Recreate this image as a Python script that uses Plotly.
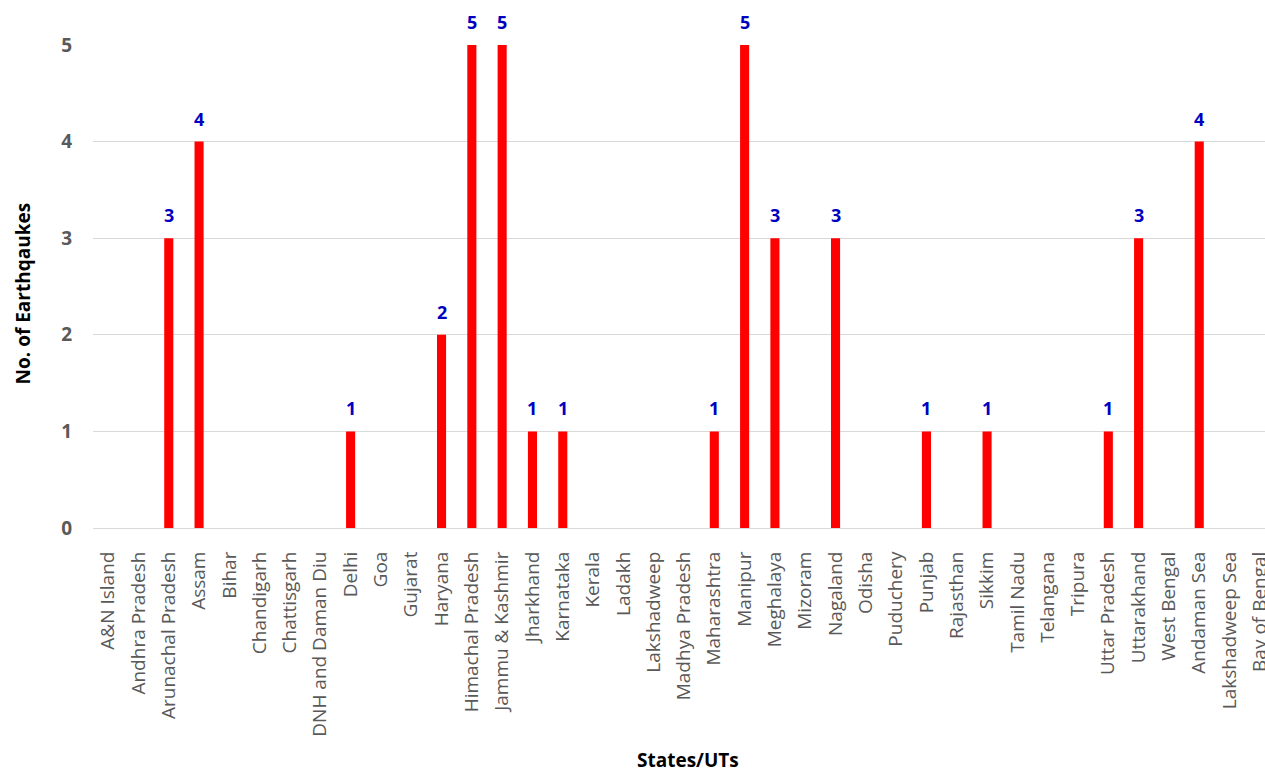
import plotly.graph_objects as go

categories = ["A&N Island", "Andhra Pradesh", "Arunachal Pradesh", "Assam", "Bihar",
              "Chandigarh", "Chattisgarh", "DNH and Daman Diu", "Delhi", "Goa", "Gujarat",
              "Haryana", "Himachal Pradesh", "Jammu & Kashmir", "Jharkhand", "Karnataka",
              "Kerala", "Ladakh", "Lakshadweep", "Madhya Pradesh", "Maharashtra", "Manipur",
              "Meghalaya", "Mizoram", "Nagaland", "Odisha", "Puduchery", "Punjab",
              "Rajasthan", "Sikkim", "Tamil Nadu", "Telangana", "Tripura", "Uttar Pradesh",
              "Uttarakhand", "West Bengal", "Andaman Sea", "Lakshadweep Sea", "Bay of Bengal"]
earthquakes = [0, 0, 3, 4, 0,
               0, 0, 0, 1, 0, 0,
               2, 5, 5, 1, 1,
               0, 0, 0, 0, 1, 5,
               3, 0, 3, 0, 0, 1,
               0, 1, 0, 0, 0, 1,
               3, 0, 4, 0, 0]
y_ticks = [0, 1, 2, 3, 4, 5]

FONT = "Open Sans"
GREY = "#595959"

fig = go.Figure()
fig.add_trace(go.Bar(
    x=categories, y=earthquakes,
    marker=dict(color="#FF0000", line=dict(width=0)),
    width=0.3,
))

for c, v in zip(categories, earthquakes):
    if v > 0:
        fig.add_annotation(x=c, y=v, text=str(v), showarrow=False,
                           yanchor="middle", yshift=23,
                           font=dict(family=FONT, size=18, color="#0000C0", weight="bold"))

fig.add_annotation(xref="paper", yref="paper", x=0.508, y=-0.480,
                   text="States/UTs", showarrow=False, xanchor="center", yanchor="middle",
                   font=dict(family=FONT, size=19, color="#000000", weight="bold"))
fig.add_annotation(xref="paper", yref="paper", x=-0.060, y=0.485,
                   text="No. of Earthqaukes", showarrow=False, textangle=-90,
                   xanchor="center", yanchor="middle",
                   font=dict(family=FONT, size=19, color="#000000", weight="bold"))

fig.update_layout(
    width=1265, height=773,
    margin=dict(l=93, r=0, t=45, b=245),
    plot_bgcolor="white", paper_bgcolor="white",
    showlegend=False,
    xaxis=dict(range=[-0.5, 38.17], tickangle=-90, showgrid=False,
               tickfont=dict(family=FONT, size=19, color=GREY),
               ticks="outside", ticklen=15, tickcolor="rgba(0,0,0,0)",
               showline=False, zeroline=False, automargin=False),
    yaxis=dict(range=[0, 5], tickvals=y_ticks, showgrid=True, gridcolor="#d9d9d9",
               gridwidth=1, zeroline=True, zerolinecolor="#d9d9d9", zerolinewidth=1,
               tickfont=dict(family=FONT, size=19, color=GREY, weight="bold"),
               ticks="outside", ticklen=16, tickcolor="rgba(0,0,0,0)",
               showline=False, automargin=False),
)

fig.write_html("out.html", config={"displayModeBar": False},
               post_script="document.body.style.margin='0px';")
